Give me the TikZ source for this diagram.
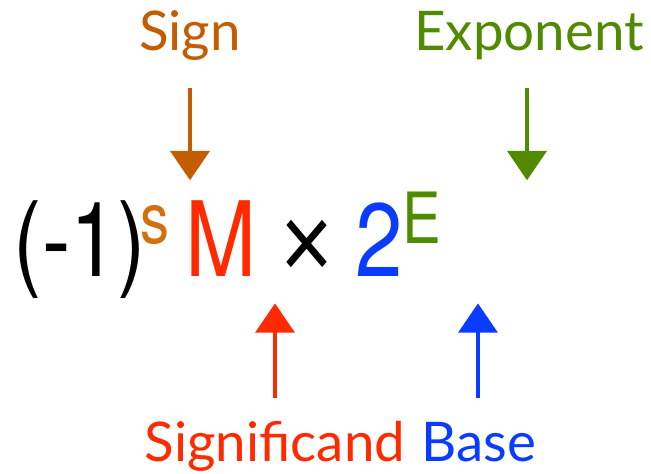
\documentclass[tikz,border=0pt]{standalone}
\usepackage{fontspec}
\usepackage{graphicx}
\setmainfont{TeX Gyre Heros}
\newfontfamily\lblfont{Lato}
\newfontfamily\timesfont{Liberation Sans}
\usetikzlibrary{arrows.meta}
\definecolor{signclr}{HTML}{C45C00}
\definecolor{sexpclr}{HTML}{D0700E}
\definecolor{expoclr}{HTML}{4F8A00}
\definecolor{signifclr}{HTML}{FF2A00}
\definecolor{baseclr}{HTML}{0A3CFF}
\newcommand{\squeezed}[1]{\scalebox{0.82}[1]{#1}}

\begin{document}
\begin{tikzpicture}[x=0.75pt, y=-0.75pt,
  lbl/.style={font=\lblfont\fontsize{41}{48}\selectfont, inner sep=0pt, anchor=base},
  big/.style={font=\fontsize{78}{90}\selectfont, inner sep=0pt, anchor=base},
  small/.style={font=\fontsize{53}{60}\selectfont, inner sep=0pt, anchor=base},
  pointer/.style={line width=3.6pt, -{Triangle[length=22pt, width=29pt]}}]
\useasboundingbox (0,0) rectangle (651,474);
% the formula
\node[big] (neg) at (80,277) {\squeezed{(-1)}};
\node[small, text=sexpclr] (sexp) at (155,244) {\squeezed{s}};
\node[big, text=signifclr] (mant) at (221,277) {\squeezed{M}};
\node[big, font=\timesfont\fontsize{80}{90}\selectfont, anchor=center] (times) at (307,250) {\scalebox{0.85}[1]{×}};
\node[big, text=baseclr] (two) at (379,277) {\squeezed{2}};
\node[small, text=expoclr] (eexp) at (422,244) {\squeezed{E}};
% labels
\node[lbl, text=signclr] (sign) at (190,51) {Sign};
\node[lbl, text=expoclr] (expo) at (529,51) {Exponent};
\node[lbl, text=signifclr] (signif) at (275,462) {Significand};
\node[lbl, text=baseclr] (base) at (479,462) {Base};
% pointers
\draw[pointer, signclr] ([yshift=-28pt]sign.base) -- ([yshift=-97pt]sign.base);
\draw[pointer, expoclr] ([xshift=-1.5pt, yshift=-28pt]expo.base) -- ([xshift=-1.5pt, yshift=-97pt]expo.base);
\draw[pointer, signifclr] ([yshift=48pt]signif.base) -- ([yshift=119pt]signif.base);
\draw[pointer, baseclr] ([xshift=-0.75pt, yshift=48pt]base.base) -- ([xshift=-0.75pt, yshift=119pt]base.base);
\end{tikzpicture}
\end{document}
